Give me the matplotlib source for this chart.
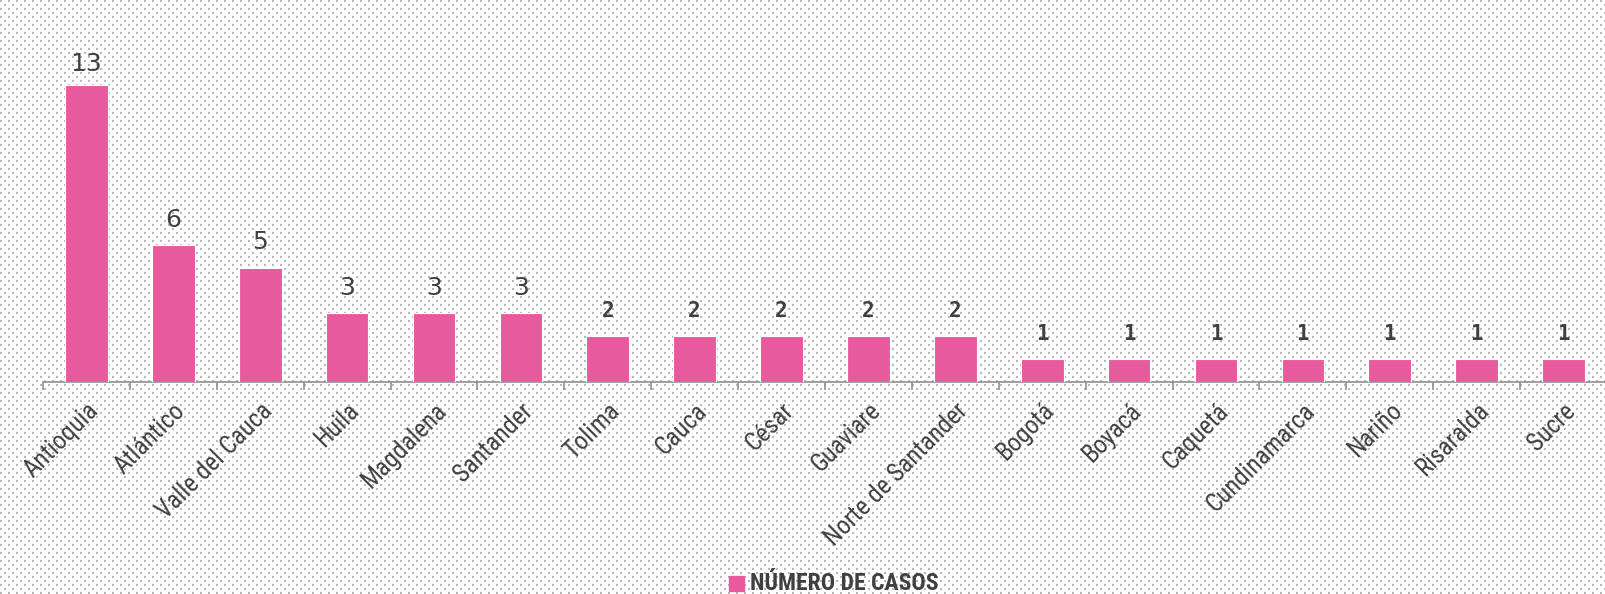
import numpy as np
import matplotlib
matplotlib.use("Agg")
import matplotlib.pyplot as plt
from matplotlib import font_manager
from matplotlib.font_manager import FontProperties

departamentos = ["Antioquia", "Atlántico", "Valle del Cauca", "Huila", "Magdalena",
                 "Santander", "Tolima", "Cauca", "César", "Guaviare",
                 "Norte de Santander", "Bogotá", "Boyacá", "Caquetá",
                 "Cundinamarca", "Nariño", "Risaralda", "Sucre"]
casos = [13, 6, 5, 3, 3, 3, 2, 2, 2, 2, 2, 1, 1, 1, 1, 1, 1, 1]
serie = "NÚMERO DE CASOS"

rosa = "#E85A9E"
texto = "#404040"


def buscar_fuente(bold=False):
    # busca una fuente estrecha instalada
    cands = []
    for f in font_manager.fontManager.ttflist:
        nom = (f.fname + " " + f.name).lower()
        estrecha = ("narrow" in nom or "condensed" in nom
                    or str(f.stretch).lower() in ("condensed", "semi-condensed", "extra-condensed"))
        if not estrecha or "italic" in nom or "oblique" in nom:
            continue
        es_bold = f.weight in ("bold", 700) or "bold" in nom
        if es_bold != bold:
            continue
        cands.append(f.fname)
    orden = ["liberationsansnarrow", "robotocondensed", "opensans", "dejavusanscondensed", "noto"]
    for o in orden:
        for c in cands:
            if o in c.lower().replace("-", "").replace("_", ""):
                return FontProperties(fname=c)
    if cands:
        return FontProperties(fname=cands[0])
    return FontProperties(family="DejaVu Sans", weight="bold" if bold else "normal")


fp_nar = buscar_fuente(False)
fp_nar_b = buscar_fuente(True)

W, H = 1606, 594
fig = plt.figure(figsize=(W / 100, H / 100), dpi=100)

# fondo punteado
fondo = np.ones((H, W, 3))
yy, xx = np.mgrid[0:H, 0:W]
pun = ((yy % 4) < 2) & (((xx + (yy // 4 % 2) * 4) % 8) < 2)
fondo[pun] = 0.72
fig.figimage(fondo, 0, 0, zorder=-10)

ax = fig.add_axes([43 / W, 212 / H, (1607 - 43) / W, 320 / H])
ax.set_zorder(2)
ax.patch.set_alpha(0)
x = np.arange(len(casos))
ax.bar(x, casos, width=0.49, color=rosa, edgecolor="white", linewidth=0.8, zorder=3)
ax.set_xlim(-0.5, len(casos) - 0.5)
ax.set_ylim(0, 14)

for s in ["top", "right", "left"]:
    ax.spines[s].set_visible(False)
ax.spines["bottom"].set_color("#909090")
ax.spines["bottom"].set_linewidth(1.2)
ax.set_yticks([])

ax.set_xticks(np.arange(len(casos)) - 0.5, minor=False)
ax.set_xticklabels([])
ax.tick_params(axis="x", which="major", length=6, color="#909090", width=1.2)
ax.set_xticks(x, minor=True)
ax.set_xticklabels(departamentos, minor=True, rotation=45, ha="right",
                   rotation_mode="anchor", color=texto, fontproperties=fp_nar)
for t in ax.get_xticklabels(minor=True):
    t.set_fontsize(18)
ax.tick_params(axis="x", which="minor", length=0, pad=12)

for xi, v in zip(x, casos):
    if v >= 3:
        dy = 0.6 if v > 10 else 0.8
        ax.text(xi, v + dy, str(v), ha="center", va="baseline", fontsize=18,
                color=texto, family="DejaVu Sans")
    else:
        ax.text(xi, v + 0.85, str(v), ha="center", va="baseline", fontsize=15,
                color=texto, family="DejaVu Sans Mono", fontweight="bold")

# leyenda
fig.patches.append(plt.Rectangle((729 / W, (H - 591) / H), 15 / W, 15 / H,
                                 transform=fig.transFigure, color=rosa, figure=fig))
ley = fig.text(750 / W, (H - 584) / H, serie, ha="left", va="center",
               color=texto, fontproperties=fp_nar_b)
ley.set_fontsize(17)

fig.savefig("out.png", dpi=100)
